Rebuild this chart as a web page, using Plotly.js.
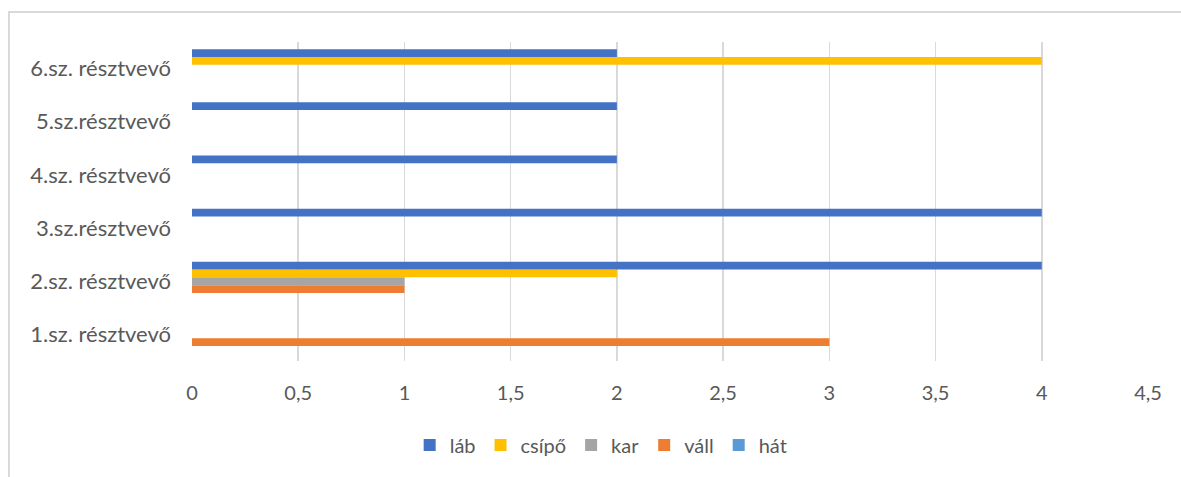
<!DOCTYPE html>
<html>
<head>
<meta charset="utf-8">
<script src="https://cdn.plot.ly/plotly-3.0.1.min.js"></script>
<style>
html,body{margin:0;padding:0;background:#fff;}
#wrap{position:relative;width:1181px;height:477px;overflow:hidden;}
#frame{position:absolute;left:8px;top:11px;width:1300px;height:600px;border-top:2px solid #d9d9d9;border-left:2px solid #d9d9d9;box-sizing:border-box;pointer-events:none;}
#chart{position:absolute;left:0;top:0;width:1181px;height:477px;}
</style>
</head>
<body>
<div id="wrap">
<div id="chart"></div>
<div id="frame"></div>
</div>
<script>
const categories = ["1.sz. résztvevő", "2.sz. résztvevő", "3.sz.résztvevő", "4.sz. résztvevő", "5.sz.résztvevő", "6.sz. résztvevő"];
const lab   = [0, 4, 4, 2, 2, 2];
const csipo = [0, 2, 0, 0, 0, 4];
const kar   = [0, 1, 0, 0, 0, 0];
const vall  = [3, 1, 0, 0, 0, 0];
const hat   = [0, 0, 0, 0, 0, 0];
const xTicks = [0, 0.5, 1, 1.5, 2, 2.5, 3, 3.5, 4, 4.5];

const series = [
  {name: "hát",   values: hat,   color: "#5B9BD5"},
  {name: "váll",  values: vall,  color: "#ED7D31"},
  {name: "kar",   values: kar,   color: "#A5A5A5"},
  {name: "csípő", values: csipo, color: "#FFC000"},
  {name: "láb",   values: lab,   color: "#4472C4"}
];

const traces = series.map(s => ({
  type: "bar",
  orientation: "h",
  name: s.name,
  y: categories,
  x: s.values,
  marker: {color: s.color, line: {width: 0}},
  hoverinfo: "x+name"
}));

const fam = "Lato, 'Liberation Sans', sans-serif";
const yfont = {family: fam, size: 22, color: "#595959"};
const xfont = {family: fam, size: 20, color: "#595959"};
const lfont = {family: fam, size: 20, color: "#595959"};

const layout = {
  width: 1181,
  height: 477,
  margin: {l: 192, r: 33, t: 42, b: 116},
  paper_bgcolor: "rgba(0,0,0,0)",
  plot_bgcolor: "#fff",
  barmode: "group",
  bargap: 0.27,
  bargroupgap: 0,
  separators: ",.",
  font: xfont,
  showlegend: true,
  legend: {
    orientation: "h",
    traceorder: "reversed",
    x: 0.428, xanchor: "center",
    y: -0.263, yanchor: "middle",
    font: lfont,
    itemclick: false
  },
  xaxis: {
    range: [0, 4.5],
    tickvals: xTicks,
    ticktext: xTicks.map(v => String(v).replace(".", ",")),
    showgrid: true,
    gridcolor: "#d9d9d9",
    gridwidth: 1.5,
    zeroline: false,
    showline: false,
    ticks: "",
    ticklabelstandoff: 18,
    tickfont: xfont,
    fixedrange: true
  },
  yaxis: {
    type: "category",
    categoryorder: "array",
    categoryarray: categories,
    showgrid: false,
    zeroline: false,
    showline: false,
    ticks: "",
    ticklabelstandoff: 20,
    tickfont: yfont,
    fixedrange: true
  }
};

Plotly.newPlot("chart", traces, layout, {displayModeBar: false, staticPlot: true});
</script>
</body>
</html>
